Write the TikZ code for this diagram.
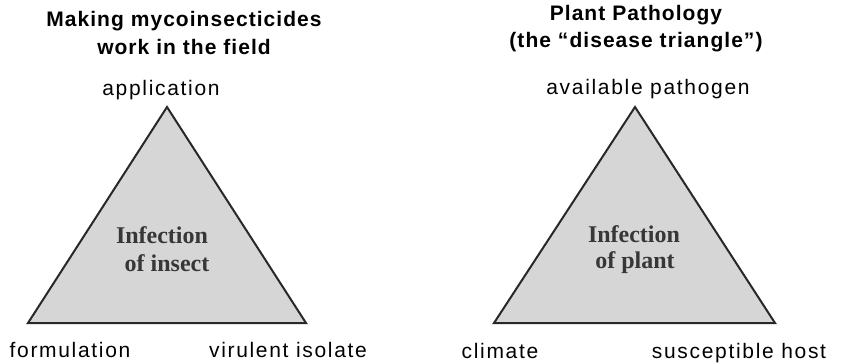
\documentclass[tikz,border=0pt]{standalone}
\usepackage{fontspec}
\setmainfont{Liberation Sans}
\newfontfamily\titlefont[LetterSpace=5]{Liberation Sans}
\newfontfamily\labfont[LetterSpace=8]{Liberation Sans}
\newfontfamily\innerfont{Liberation Serif}
\definecolor{trifill}{RGB}{214,214,214}
\definecolor{triline}{RGB}{40,40,40}
\definecolor{innertxt}{RGB}{55,55,55}
\tikzset{
  titletxt/.style={anchor=base,inner sep=0pt,font=\titlefont\bfseries\fontsize{21}{27}\selectfont},
  labtxt/.style={anchor=base,inner sep=0pt,font=\labfont\fontsize{21}{25}\selectfont},
  innertxt/.style={anchor=base,inner sep=0pt,text=innertxt,font=\innerfont\bfseries\fontsize{24}{28}\selectfont},
  tri/.style={fill=trifill,draw=triline,line width=2pt,line join=miter}
}
\begin{document}
\begin{tikzpicture}[x=1pt,y=-1pt]
\useasboundingbox (0,0) rectangle (841,364);
% left triangle
\coordinate (LA) at (167,107);
\coordinate (LB) at (28,323);
\coordinate (LC) at (306,323);
\draw[tri] (LA) -- (LB) -- (LC) -- cycle;
% right triangle
\coordinate (RA) at (635,107);
\coordinate (RB) at (494,323);
\coordinate (RC) at (775,323);
\draw[tri] (RA) -- (RB) -- (RC) -- cycle;
% titles
\node[titletxt] (lt1) at (184,27) {Making mycoinsecticides};
\node[titletxt] (lt2) at (184,54) {work in the field};
\node[titletxt] (rt1) at (636,20) {Plant Pathology};
\node[titletxt] (rt2) at (636,47) {(the \textquotedblleft disease triangle\textquotedblright)};
% vertex labels
\node[labtxt] (lapp) at (161,95) {application};
\node[labtxt] (lform) at (70,357) {formulation};
\node[labtxt] (lvir) at (288,357) {virulent isolate};
\node[labtxt] (rpath) at (648,94) {available pathogen};
\node[labtxt] (rclim) at (500,358) {climate};
\node[labtxt] (rhost) at (739,358) {susceptible host};
% inner texts
\node[innertxt] (li1) at (162,243) {Infection};
\node[innertxt] (li2) at (167,271) {of insect};
\node[innertxt] (ri1) at (634,242) {Infection};
\node[innertxt] (ri2) at (635,268) {of plant};
\end{tikzpicture}
\end{document}
